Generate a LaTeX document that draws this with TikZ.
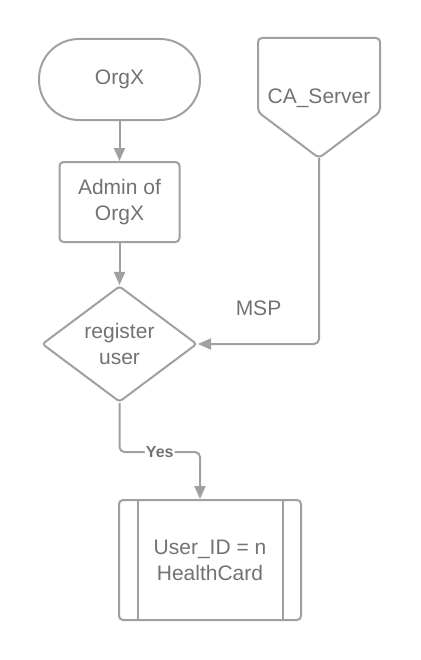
\documentclass[tikz,border=0pt]{standalone}
\usepackage{fontspec}
\setmainfont{Liberation Sans}
\usetikzlibrary{arrows.meta, positioning, shapes.geometric}
\definecolor{linegray}{HTML}{A0A0A0}
\definecolor{textgray}{HTML}{727272}

\begin{document}
\begin{tikzpicture}[
    x=1bp, y=1bp,
    node distance=40bp,
    every node/.style={text=textgray, font=\fontsize{21bp}{26bp}\selectfont, align=center},
    flow/.style={draw=linegray, line width=2bp, -{Triangle[length=13bp, width=11bp]}, rounded corners=5bp},
    terminator/.style={rectangle, draw=linegray, line width=2bp, rounded corners=40bp, minimum width=161bp, minimum height=81bp},
    process/.style={rectangle, draw=linegray, line width=2bp, rounded corners=4bp, minimum width=120bp, minimum height=80bp},
    decision/.style={diamond, draw=linegray, line width=2bp, aspect=1.34, rounded corners=3bp, minimum width=155bp, minimum height=116bp, inner sep=0pt},
    offpage/.style={rectangle, outer sep=0pt, minimum width=122bp, minimum height=120bp},
    predefined/.style={process, minimum width=182bp, minimum height=120bp,
      path picture={\draw[linegray, line width=2bp]
        ([xshift=19bp]path picture bounding box.north west) -- ([xshift=19bp]path picture bounding box.south west)
        ([xshift=-18bp]path picture bounding box.north east) -- ([xshift=-18bp]path picture bounding box.south east);}},
    label/.style={fill=white, inner sep=1bp, font=\fontsize{16bp}{18bp}\selectfont\bfseries}
  ]
  \useasboundingbox (0,0) rectangle (420,-660);

  \node[terminator] (orgx) at (119.5,-79.5) {OrgX};
  \node[process, below=of orgx] (admin) {Admin of\\OrgX};
  \node[decision, below=42bp of admin] (register) {register\\user};
  \node[offpage] (ca) at (319,-98) {CA\_Server};
  \node[predefined] (hc) at (210,-560) {User\_ID = n\\HealthCard};

  \draw[draw=linegray, line width=2bp, rounded corners=4bp]
    (ca.north west) -- (ca.north east) -- ([yshift=46bp]ca.south east)
    -- (ca.south) -- ([yshift=46bp]ca.south west) -- cycle;

  \path
    (orgx) edge[flow] (admin)
    (admin) edge[flow] (register)
  ;
  \draw[flow] (ca.south) |- node[pos=0.75, above=24bp] {MSP} (register.east);
  \draw[flow] (register.south) -- ++(0,-49) -| node[pos=0.25, label] {Yes} ([xshift=-10bp]hc.north);
\end{tikzpicture}
\end{document}
